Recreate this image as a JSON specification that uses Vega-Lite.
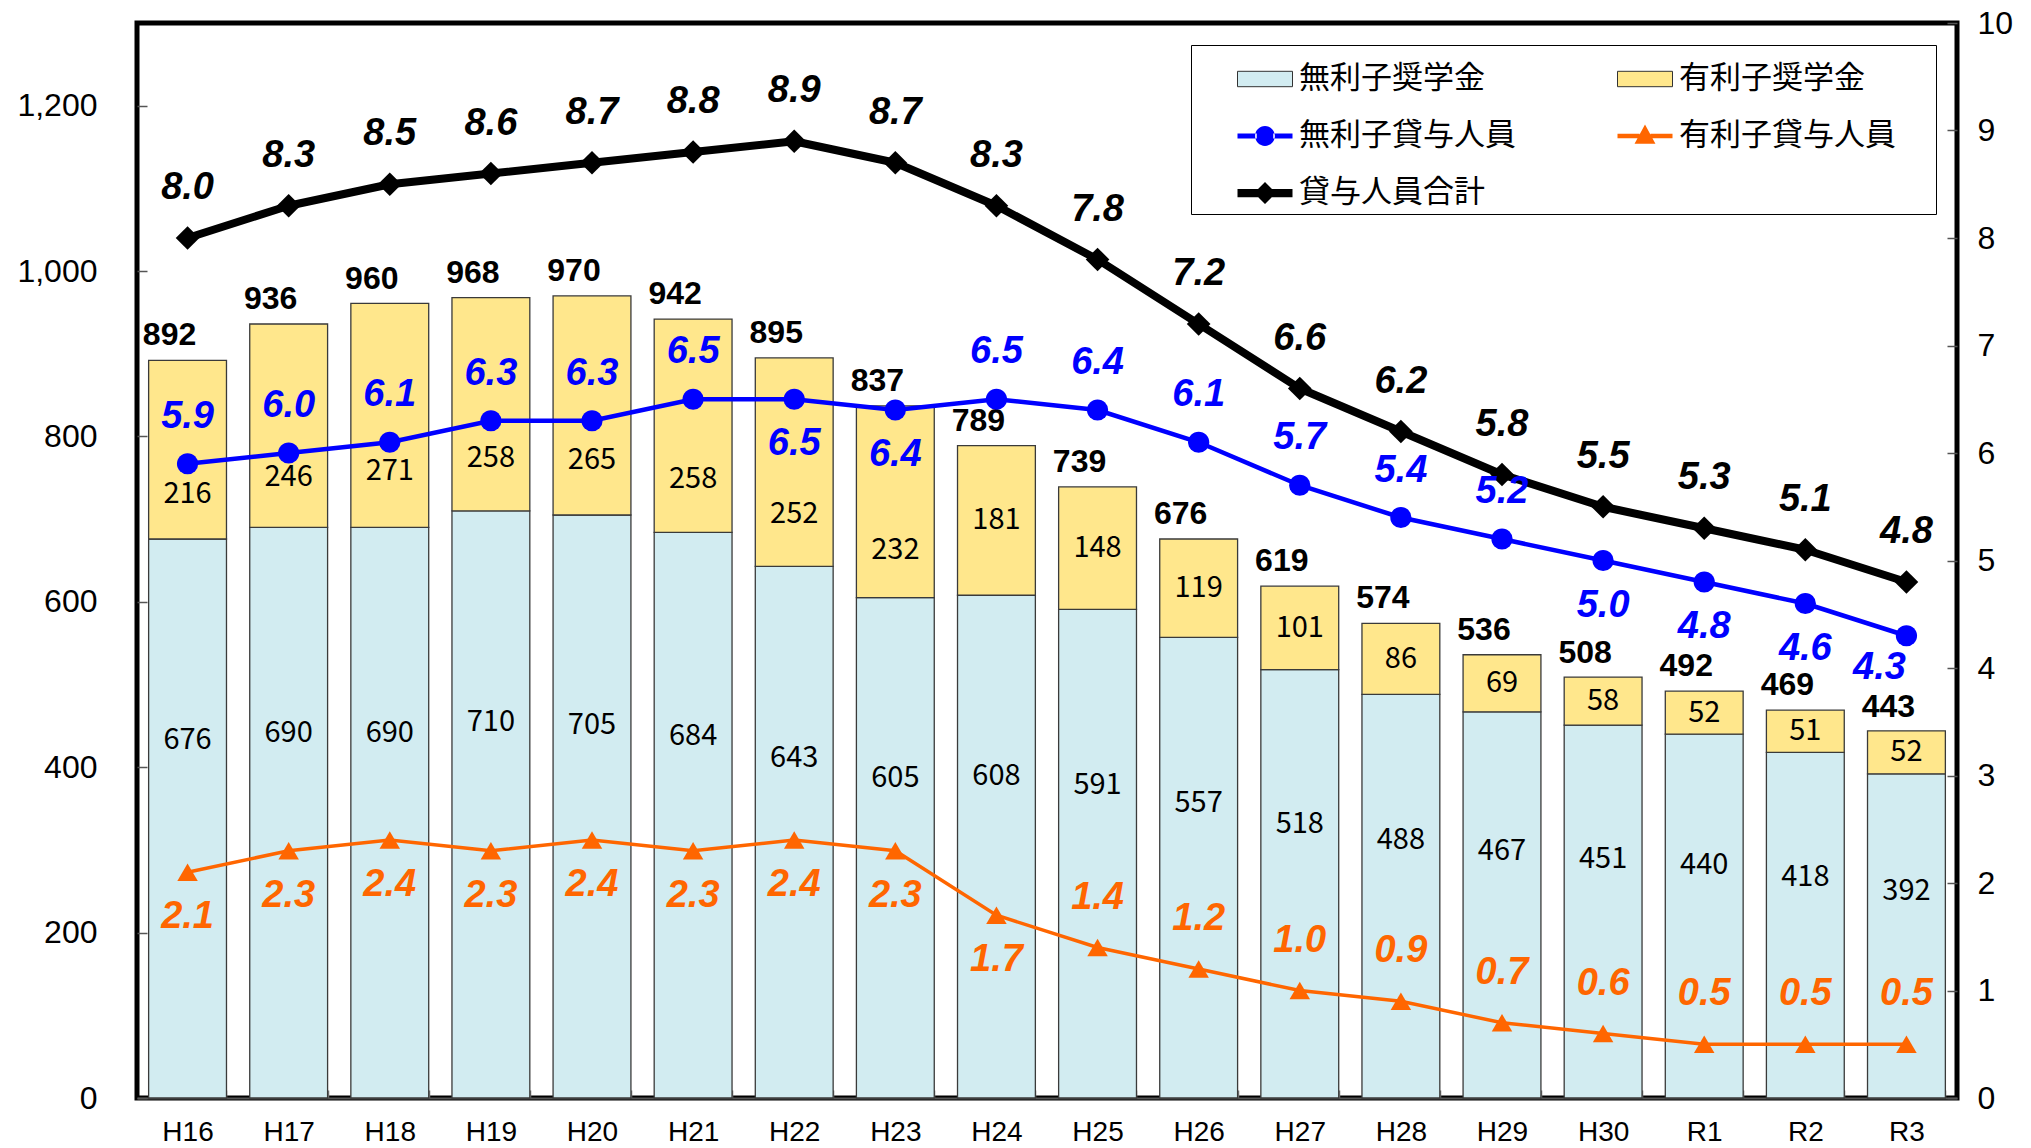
{
  "$schema": "https://vega.github.io/schema/vega-lite/v6.json",
  "width": 1820,
  "height": 1075,
  "autosize": {"type": "none"},
  "padding": {"left": 137, "top": 23, "right": 74, "bottom": 50},
  "background": "#ffffff",
  "config": {
    "view": {"stroke": "#000000", "strokeWidth": 5},
    "axis": {"grid": false},
    "axisLeft": {"labelFont": "Liberation Sans", "labelFontSize": 32, "labelColor": "#000000", "labelPadding": 50, "tickSize": -10, "tickColor": "#555555", "tickWidth": 1.5, "domain": false},
    "axisRight": {"labelFont": "Liberation Sans", "labelFontSize": 32, "labelColor": "#000000", "labelPadding": 30, "tickSize": -10, "tickColor": "#555555", "tickWidth": 1.5, "domain": false}
  },
  "data": {
    "values": [
      {"year": "H16", "無利子奨学金": 676, "有利子奨学金": 216, "total": 892, "無利子貸与人員": 5.9, "有利子貸与人員": 2.1, "貸与人員合計": 8.0},
      {"year": "H17", "無利子奨学金": 690, "有利子奨学金": 246, "total": 936, "無利子貸与人員": 6.0, "有利子貸与人員": 2.3, "貸与人員合計": 8.3},
      {"year": "H18", "無利子奨学金": 690, "有利子奨学金": 271, "total": 960, "無利子貸与人員": 6.1, "有利子貸与人員": 2.4, "貸与人員合計": 8.5},
      {"year": "H19", "無利子奨学金": 710, "有利子奨学金": 258, "total": 968, "無利子貸与人員": 6.3, "有利子貸与人員": 2.3, "貸与人員合計": 8.6},
      {"year": "H20", "無利子奨学金": 705, "有利子奨学金": 265, "total": 970, "無利子貸与人員": 6.3, "有利子貸与人員": 2.4, "貸与人員合計": 8.7},
      {"year": "H21", "無利子奨学金": 684, "有利子奨学金": 258, "total": 942, "無利子貸与人員": 6.5, "有利子貸与人員": 2.3, "貸与人員合計": 8.8},
      {"year": "H22", "無利子奨学金": 643, "有利子奨学金": 252, "total": 895, "無利子貸与人員": 6.5, "有利子貸与人員": 2.4, "貸与人員合計": 8.9},
      {"year": "H23", "無利子奨学金": 605, "有利子奨学金": 232, "total": 837, "無利子貸与人員": 6.4, "有利子貸与人員": 2.3, "貸与人員合計": 8.7},
      {"year": "H24", "無利子奨学金": 608, "有利子奨学金": 181, "total": 789, "無利子貸与人員": 6.5, "有利子貸与人員": 1.7, "貸与人員合計": 8.3},
      {"year": "H25", "無利子奨学金": 591, "有利子奨学金": 148, "total": 739, "無利子貸与人員": 6.4, "有利子貸与人員": 1.4, "貸与人員合計": 7.8},
      {"year": "H26", "無利子奨学金": 557, "有利子奨学金": 119, "total": 676, "無利子貸与人員": 6.1, "有利子貸与人員": 1.2, "貸与人員合計": 7.2},
      {"year": "H27", "無利子奨学金": 518, "有利子奨学金": 101, "total": 619, "無利子貸与人員": 5.7, "有利子貸与人員": 1.0, "貸与人員合計": 6.6},
      {"year": "H28", "無利子奨学金": 488, "有利子奨学金": 86, "total": 574, "無利子貸与人員": 5.4, "有利子貸与人員": 0.9, "貸与人員合計": 6.2},
      {"year": "H29", "無利子奨学金": 467, "有利子奨学金": 69, "total": 536, "無利子貸与人員": 5.2, "有利子貸与人員": 0.7, "貸与人員合計": 5.8},
      {"year": "H30", "無利子奨学金": 451, "有利子奨学金": 58, "total": 508, "無利子貸与人員": 5.0, "有利子貸与人員": 0.6, "貸与人員合計": 5.5},
      {"year": "R1", "無利子奨学金": 440, "有利子奨学金": 52, "total": 492, "無利子貸与人員": 4.8, "有利子貸与人員": 0.5, "貸与人員合計": 5.3},
      {"year": "R2", "無利子奨学金": 418, "有利子奨学金": 51, "total": 469, "無利子貸与人員": 4.6, "有利子貸与人員": 0.5, "貸与人員合計": 5.1},
      {"year": "R3", "無利子奨学金": 392, "有利子奨学金": 52, "total": 443, "無利子貸与人員": 4.3, "有利子貸与人員": 0.5, "貸与人員合計": 4.8}
    ]
  },
  "encoding": {
    "x": {
      "field": "year", "type": "nominal", "sort": null,
      "scale": {"paddingInner": 0.23, "paddingOuter": 0.115},
      "axis": {"title": null, "labelAngle": 0, "labelFont": "Liberation Sans", "labelFontSize": 28, "labelColor": "#000000", "labelPadding": 28, "tickBand": "extent", "tickSize": -8, "tickColor": "#777777", "tickWidth": 1.5, "domainColor": "#555555", "domainWidth": 2}
    }
  },
  "layer": [
    {
      "transform": [
        {"fold": ["無利子奨学金", "有利子奨学金"], "as": ["series", "value"]},
        {"calculate": "datum.series === '無利子奨学金' ? 0 : 1", "as": "ord"}
      ],
      "layer": [
        {
          "mark": {"type": "bar", "stroke": "#3a3a3a", "strokeWidth": 1.3},
          "encoding": {
            "y": {"field": "value", "type": "quantitative", "stack": "zero", "title": null, "scale": {"domain": [0, 1300], "nice": false}, "axis": {"values": [0, 200, 400, 600, 800, 1000, 1200], "format": ",", "labelExpr": "format(datum.value, ',')"}},
            "color": {
              "field": "series", "type": "nominal",
              "scale": {"domain": ["無利子奨学金", "有利子奨学金", "無利子貸与人員", "有利子貸与人員", "貸与人員合計"], "range": ["#d2ecf1", "#ffe78c", "#0000ff", "#ff6600", "#000000"]},
              "legend": {
                "title": "\u00a0", "titleOrient": "right", "titleFontSize": 10, "titlePadding": 34,
                "orient": "none", "legendX": 1054, "legendY": 22, "columns": 2, "direction": "horizontal",
                "strokeColor": "#000000", "fillColor": "#ffffff", "padding": 6,
                "labelFont": "Noto Sans CJK JP", "labelFontSize": 31, "labelColor": "#000000", "labelOffset": 6, "labelLimit": 500,
                "symbolSize": 3025, "symbolOffset": 40, "columnPadding": 61, "rowPadding": 14,
                "symbolType": {"expr": "datum.value === '無利子奨学金' || datum.value === '有利子奨学金' ? 'M-1,-0.28H1V0.28H-1Z' : datum.value === '無利子貸与人員' ? 'M-1,-0.09H-0.3V0.09H-1Z M0.3,-0.09H1V0.09H0.3Z M-0.36,0A0.36,0.36 0 1,0 0.36,0A0.36,0.36 0 1,0 -0.36,0Z' : datum.value === '有利子貸与人員' ? 'M-1,-0.08H-0.2V0.08H-1Z M0.2,-0.08H1V0.08H0.2Z M0,-0.42L0.38,0.28L-0.38,0.28Z' : 'M-1,-0.15H-0.2V0.15H-1Z M0.2,-0.15H1V0.15H0.2Z M0,-0.4L0.4,0L0,0.4L-0.4,0Z'"},
                "symbolStrokeColor": {"expr": "datum.value === '無利子奨学金' || datum.value === '有利子奨学金' ? '#333333' : 'transparent'"},
                "symbolStrokeWidth": 1,
                "symbolOpacity": 1
              }
            },
            "order": {"field": "ord", "type": "quantitative"}
          }
        },
        {
          "transform": [{"calculate": "datum.series === '無利子奨学金' ? datum.value * 0.64 : datum['無利子奨学金'] + datum.value * (datum.value < 200 ? 0.5 : 0.25)", "as": "ly"}],
          "mark": {"type": "text", "font": "Noto Sans CJK JP", "fontSize": 29, "baseline": "middle", "color": "#000000"},
          "encoding": {
            "y": {"field": "ly", "type": "quantitative", "title": null},
            "text": {"field": "value", "type": "quantitative", "format": "d"}
          }
        },
        {
          "transform": [{"filter": "datum.series === '無利子奨学金'"}],
          "mark": {"type": "text", "font": "Liberation Sans", "fontWeight": "bold", "fontSize": 32, "baseline": "middle", "dx": -18, "dy": -25, "color": "#000000"},
          "encoding": {
            "y": {"field": "total", "type": "quantitative", "title": null},
            "text": {"field": "total", "type": "quantitative", "format": "d"}
          }
        }
      ]
    },
    {
      "layer": [
        {
          "mark": {"type": "line", "strokeWidth": 8, "strokeJoin": "round", "strokeCap": "round", "color": "#000000"},
          "encoding": {
            "y": {"field": "貸与人員合計", "type": "quantitative", "title": null, "scale": {"domain": [0, 10], "nice": false}, "axis": {"orient": "right", "values": [0, 1, 2, 3, 4, 5, 6, 7, 8, 9, 10], "format": "d", "labelExpr": "format(datum.value, 'd')"}}
          }
        },
        {
          "mark": {"type": "line", "strokeWidth": 4.5, "color": "#0000ff"},
          "encoding": {
            "y": {"field": "無利子貸与人員", "type": "quantitative", "title": null}
          }
        },
        {
          "mark": {"type": "line", "strokeWidth": 3.5, "color": "#ff6600"},
          "encoding": {
            "y": {"field": "有利子貸与人員", "type": "quantitative", "title": null}
          }
        },
        {
          "mark": {"type": "point", "shape": "diamond", "filled": true, "size": 560, "opacity": 1, "color": "#000000"},
          "encoding": {
            "y": {"field": "貸与人員合計", "type": "quantitative", "title": null}
          }
        },
        {
          "mark": {"type": "point", "shape": "circle", "filled": true, "size": 450, "opacity": 1, "color": "#0000ff"},
          "encoding": {
            "y": {"field": "無利子貸与人員", "type": "quantitative", "title": null}
          }
        },
        {
          "mark": {"type": "point", "shape": "triangle-up", "filled": true, "size": 420, "opacity": 1, "color": "#ff6600"},
          "encoding": {
            "y": {"field": "有利子貸与人員", "type": "quantitative", "title": null}
          }
        },
        {
          "mark": {"type": "text", "font": "Liberation Sans", "fontStyle": "italic", "fontWeight": "bold", "fontSize": 38, "baseline": "middle", "dy": -50, "color": "#000000"},
          "encoding": {
            "y": {"field": "貸与人員合計", "type": "quantitative", "title": null},
            "text": {"field": "貸与人員合計", "type": "quantitative", "format": ".1f"}
          }
        },
        {
          "transform": [{"filter": {"not": {"field": "year", "oneOf": ["H22", "H23", "H30", "R1", "R2", "R3"]}}}],
          "mark": {"type": "text", "font": "Liberation Sans", "fontStyle": "italic", "fontWeight": "bold", "fontSize": 38, "baseline": "middle", "dy": -47, "color": "#0000ff"},
          "encoding": {
            "y": {"field": "無利子貸与人員", "type": "quantitative", "title": null},
            "text": {"field": "無利子貸与人員", "type": "quantitative", "format": ".1f"}
          }
        },
        {
          "transform": [{"filter": {"field": "year", "oneOf": ["H22", "H23", "H30", "R1", "R2"]}}],
          "mark": {"type": "text", "font": "Liberation Sans", "fontStyle": "italic", "fontWeight": "bold", "fontSize": 38, "baseline": "middle", "dy": 45, "color": "#0000ff"},
          "encoding": {
            "y": {"field": "無利子貸与人員", "type": "quantitative", "title": null},
            "text": {"field": "無利子貸与人員", "type": "quantitative", "format": ".1f"}
          }
        },
        {
          "transform": [{"filter": {"field": "year", "oneOf": ["R3"]}}],
          "mark": {"type": "text", "font": "Liberation Sans", "fontStyle": "italic", "fontWeight": "bold", "fontSize": 38, "baseline": "middle", "dy": 32, "dx": -27, "color": "#0000ff"},
          "encoding": {
            "y": {"field": "無利子貸与人員", "type": "quantitative", "title": null},
            "text": {"field": "無利子貸与人員", "type": "quantitative", "format": ".1f"}
          }
        },
        {
          "transform": [{"filter": {"field": "year", "oneOf": ["H16", "H17", "H18", "H19", "H20", "H21", "H22", "H23", "H24"]}}],
          "mark": {"type": "text", "font": "Liberation Sans", "fontStyle": "italic", "fontWeight": "bold", "fontSize": 38, "baseline": "middle", "dy": 45, "color": "#ff6600"},
          "encoding": {
            "y": {"field": "有利子貸与人員", "type": "quantitative", "title": null},
            "text": {"field": "有利子貸与人員", "type": "quantitative", "format": ".1f"}
          }
        },
        {
          "transform": [{"filter": {"not": {"field": "year", "oneOf": ["H16", "H17", "H18", "H19", "H20", "H21", "H22", "H23", "H24"]}}}],
          "mark": {"type": "text", "font": "Liberation Sans", "fontStyle": "italic", "fontWeight": "bold", "fontSize": 38, "baseline": "middle", "dy": -50, "color": "#ff6600"},
          "encoding": {
            "y": {"field": "有利子貸与人員", "type": "quantitative", "title": null},
            "text": {"field": "有利子貸与人員", "type": "quantitative", "format": ".1f"}
          }
        }
      ]
    }
  ],
  "resolve": {"scale": {"y": "independent"}}
}
